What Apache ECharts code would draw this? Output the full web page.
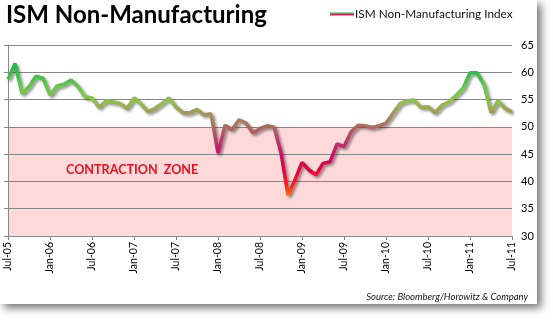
<!DOCTYPE html>
<html>
<head>
<meta charset="utf-8">
<script src="https://cdn.jsdelivr.net/npm/echarts@6/dist/echarts.min.js"></script>
<style>
html,body{margin:0;padding:0;background:#fff;}
#c{width:553px;height:321px;}
</style>
</head>
<body>
<div id="c"></div>
<script>
const categories = [
 'Jul-05','Aug-05','Sep-05','Oct-05','Nov-05','Dec-05',
 'Jan-06','Feb-06','Mar-06','Apr-06','May-06','Jun-06','Jul-06','Aug-06','Sep-06','Oct-06','Nov-06','Dec-06',
 'Jan-07','Feb-07','Mar-07','Apr-07','May-07','Jun-07','Jul-07','Aug-07','Sep-07','Oct-07','Nov-07','Dec-07',
 'Jan-08','Feb-08','Mar-08','Apr-08','May-08','Jun-08','Jul-08','Aug-08','Sep-08','Oct-08','Nov-08','Dec-08',
 'Jan-09','Feb-09','Mar-09','Apr-09','May-09','Jun-09','Jul-09','Aug-09','Sep-09','Oct-09','Nov-09','Dec-09',
 'Jan-10','Feb-10','Mar-10','Apr-10','May-10','Jun-10','Jul-10','Aug-10','Sep-10','Oct-10','Nov-10','Dec-10',
 'Jan-11','Feb-11','Mar-11','Apr-11','May-11','Jun-11','Jul-11'
];
const ismValues = [
 58.7,61.6,56.1,57.4,59.3,58.9,
 55.8,57.5,57.8,58.6,57.4,55.5,55.3,53.6,54.8,54.6,54.3,53.4,
 55.3,54.2,52.8,53.4,54.3,55.3,53.6,52.6,52.6,53.2,52.2,52.4,
 45.2,50.3,49.5,51.3,50.7,48.9,49.7,50.2,50.0,45.2,37.5,40.3,
 43.5,42.1,41.2,43.3,43.6,46.9,46.4,49.1,50.3,50.2,49.9,50.2,
 50.7,52.5,54.3,54.8,54.9,53.6,53.7,52.6,54.0,54.6,55.8,57.1,
 59.9,59.9,57.7,52.6,54.8,53.4,52.8
];
const yTicks = [30,35,40,45,50,55,60,65];
const seriesName = 'ISM Non-Manufacturing Index';
const titleText = 'ISM Non-Manufacturing';
const zoneText = 'CONTRACTION  ZONE';
const sourceText = 'Source: Bloomberg/Horowitz & Company';

const chart = echarts.init(document.getElementById('c'), null, {renderer:'canvas'});
const yMin = yTicks[0], yMax = yTicks[yTicks.length-1];
const option = {
  animation:false,
  backgroundColor:'transparent',
  textStyle:{fontFamily:'Lato'},
  grid:{left:8,right:41,top:45,bottom:85},
  graphic:[
    {type:'rect',z:-100,silent:true,shape:{x:0,y:0,width:537,height:304},
     style:{fill:'#fff',shadowBlur:8,shadowOffsetX:4,shadowOffsetY:4,shadowColor:'rgba(0,0,0,0.55)'}},
    {type:'text',left:6,top:3,z:10,style:{text:titleText,font:'bold 24px Lato',fill:'#000'}},
    {type:'rect',z:10,shape:{x:330,y:12.5,width:24,height:1.5},style:{fill:'#2cb84a'}},
    {type:'rect',z:10,shape:{x:330,y:14,width:24,height:1.5},style:{fill:'#d0245a'}},
    {type:'text',z:10,x:355,y:8,style:{text:seriesName,font:'11.8px Lato',fill:'#111'}},
    {type:'text',z:10,x:66,y:163.5,style:{text:zoneText,font:'bold 12.6px Lato',fill:'#ee1020'}},
    {type:'text',z:10,x:528,y:292,style:{text:sourceText,font:'italic 9.5px Lato',fill:'#111',align:'right'}}
  ],
  xAxis:{
    type:'category',data:categories,boundaryGap:false,
    axisLine:{lineStyle:{color:'#888',width:1}},
    axisTick:{interval:5,length:4,lineStyle:{color:'#888'}},
    axisLabel:{interval:5,rotate:90,fontSize:10.5,color:'#000',margin:6,fontFamily:'Lato'},
    splitLine:{show:false}
  },
  yAxis:[
    {type:'value',min:yMin,max:yMax,interval:5,position:'left',
     axisLine:{show:true,lineStyle:{color:'#888'}},
     axisTick:{show:true,length:4,lineStyle:{color:'#888'}},
     axisLabel:{show:false},
     splitLine:{show:true,lineStyle:{color:'#888',width:1}},
     splitArea:{show:true,areaStyle:{color:['#fdd9da','#fdd9da','#fdd9da','#fdd9da','rgba(0,0,0,0)','rgba(0,0,0,0)','rgba(0,0,0,0)']}}
    },
    {type:'value',min:yMin,max:yMax,interval:5,position:'right',
     axisLine:{show:false},axisTick:{show:false},splitLine:{show:false},
     axisLabel:{show:true,fontSize:11,color:'#000',margin:9,fontFamily:'Lato'}
    }
  ],
  visualMap:{
    show:false,type:'continuous',dimension:1,min:37,max:62,seriesIndex:0,
    inRange:{color:['#ff8000','#ff1a1a','#e8003c','#cc0a66','#c0306e','#b06060','#a88c58','#92c046','#6cc844','#38c044','#1cb84a']}
  },
  series:[{
    name:seriesName,type:'line',data:ismValues,yAxisIndex:0,
    showSymbol:false,symbol:'none',smooth:false,
    lineStyle:{width:3.5,shadowColor:'rgba(0,0,0,0.45)',shadowBlur:3,shadowOffsetX:2,shadowOffsetY:2}
  }]
};
chart.setOption(option);
</script>
</body>
</html>
